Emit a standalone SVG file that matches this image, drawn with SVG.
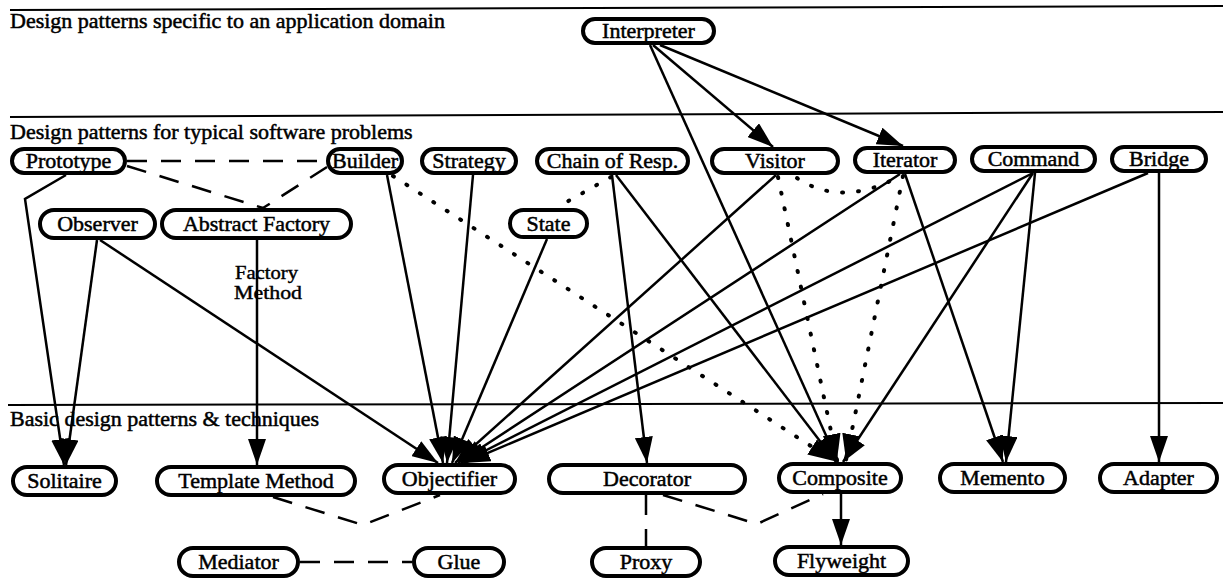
<svg xmlns="http://www.w3.org/2000/svg" width="1223" height="580" viewBox="0 0 1223 580">
  <style>
    .bg { fill: #ffffff; }
    .band { stroke: #000; stroke-width: 2; fill: none; }
    .section { font-family: "Liberation Serif", "Times New Roman", serif; font-size: 22px; fill: #000; stroke: #000; stroke-width: 0.5; }
    .pill { fill: #ffffff; stroke: #000; stroke-width: 4; }
    .label { font-family: "Liberation Serif", "Times New Roman", serif; font-size: 22px; fill: #000; stroke: #000; stroke-width: 0.5; text-anchor: middle; }
    .note { font-family: "Liberation Serif", "Times New Roman", serif; font-size: 18px; fill: #000; stroke: #000; stroke-width: 0.4; }
    .uses { stroke: #000; stroke-width: 2.5; fill: none; marker-end: url(#head); }
    .variant { stroke: #000; stroke-width: 4; fill: none; stroke-dasharray: 1 15; stroke-linecap: round; }
    .variant.arrowed { marker-end: url(#head); }
    .similar { stroke: #000; stroke-width: 2.5; fill: none; stroke-dasharray: 20 14; }
  </style>
  <defs>
    <marker id="head" viewBox="0 0 26 18" refX="26" refY="9" markerWidth="26" markerHeight="18" markerUnits="userSpaceOnUse" orient="auto">
      <path d="M0,0 L26,9 L0,18 z" fill="#000"/>
    </marker>
  </defs>

  <rect class="bg" x="0" y="0" width="1223" height="580"/>

  <!-- layer separators and layer titles -->
  <g id="layers">
    <line class="band" x1="10" y1="10" x2="1223" y2="6"/>
    <line class="band" x1="10" y1="117" x2="1223" y2="112"/>
    <line class="band" x1="8" y1="405" x2="1223" y2="403"/>
    <text class="section" x="10" y="28">Design patterns specific to an application domain</text>
    <text class="section" x="10" y="139">Design patterns for typical software problems</text>
    <text class="section" x="10" y="426">Basic design patterns &amp; techniques</text>
  </g>

  <!-- relationships -->
  <g id="connectors">
    <!-- X uses Y -->
    <path class="uses" d="M653,45 L773,147"/>
    <path class="uses" d="M660,45 L903,146"/>
    <path class="uses" d="M650,45 L838,462"/>
    <path class="uses" d="M66,175 L25,199 L64,465"/>
    <path class="uses" d="M97,240 L66,465"/>
    <path class="uses" d="M100,240 L438,463"/>
    <path class="uses" d="M257,240 L257,465"/>
    <path class="uses" d="M387,175 L443,463"/>
    <path class="uses" d="M473,175 L447,463"/>
    <path class="uses" d="M547,239 L452,463"/>
    <path class="uses" d="M612,175 L647,463"/>
    <path class="uses" d="M616,175 L836,462"/>
    <path class="uses" d="M776,175 L455,463"/>
    <path class="uses" d="M900,174 L458,463"/>
    <path class="uses" d="M905,174 L1003,462"/>
    <path class="uses" d="M1033,173 L461,463"/>
    <path class="uses" d="M1033,173 L843,462"/>
    <path class="uses" d="M1035,173 L1006,462"/>
    <path class="uses" d="M1148,173 L464,463"/>
    <path class="uses" d="M1159,173 L1159,462"/>
    <path class="uses" d="M841,494 L841,545"/>

    <!-- variant of X uses Y -->
    <path class="variant arrowed" d="M393,176 L834,461"/>
    <path class="variant" d="M611,177 L556,208"/>
    <path class="variant arrowed" d="M778,177 L837,460"/>
    <path class="variant arrowed" d="M903,176 L846,460"/>
    <path class="variant" d="M797,178 Q842,208 900,176"/>

    <!-- X is similar to Y -->
    <path class="similar" d="M127,161 L326,161"/>
    <path class="similar" d="M127,166 L263,208"/>
    <path class="similar" d="M327,167 L263,208"/>
    <path class="similar" d="M273,497 L363,525 L440,495"/>
    <path class="similar" d="M663,495 L757,524 L823,494"/>
    <path class="similar" d="M646,495 L646,546"/>
    <path class="similar" d="M300,562 L412,562"/>

    <text class="note" x="235" y="279" textLength="63" lengthAdjust="spacingAndGlyphs">Factory</text>
    <text class="note" x="234" y="299" textLength="68" lengthAdjust="spacingAndGlyphs">Method</text>
  </g>

  <!-- patterns -->
  <g id="interpreter"><rect class="pill" x="583" y="19" width="131" height="24" rx="12"/><text class="label" x="648.5" y="38">Interpreter</text></g>

  <g id="prototype"><rect class="pill" x="12" y="149" width="113" height="24" rx="12"/><text class="label" x="68.5" y="168">Prototype</text></g>
  <g id="builder"><rect class="pill" x="328" y="149" width="74" height="24" rx="12"/><text class="label" x="365" y="168">Builder</text></g>
  <g id="strategy"><rect class="pill" x="422" y="149" width="94" height="24" rx="12"/><text class="label" x="469" y="168">Strategy</text></g>
  <g id="chain-of-resp"><rect class="pill" x="537" y="149" width="151" height="24" rx="12"/><text class="label" x="612.5" y="168">Chain of Resp.</text></g>
  <g id="visitor"><rect class="pill" x="712" y="149" width="126" height="24" rx="12"/><text class="label" x="775" y="168">Visitor</text></g>
  <g id="iterator"><rect class="pill" x="855" y="148" width="100" height="24" rx="12"/><text class="label" x="905" y="167">Iterator</text></g>
  <g id="command"><rect class="pill" x="972" y="147" width="123" height="24" rx="12"/><text class="label" x="1033.5" y="166">Command</text></g>
  <g id="bridge"><rect class="pill" x="1112" y="147" width="94" height="24" rx="12"/><text class="label" x="1159" y="166">Bridge</text></g>

  <g id="observer"><rect class="pill" x="40" y="210" width="115" height="28" rx="14"/><text class="label" x="97.5" y="231">Observer</text></g>
  <g id="abstract-factory"><rect class="pill" x="162" y="210" width="189" height="28" rx="14"/><text class="label" x="256.5" y="231">Abstract Factory</text></g>
  <g id="state"><rect class="pill" x="510" y="210" width="77" height="27" rx="13.5"/><text class="label" x="548.5" y="231">State</text></g>

  <g id="solitaire"><rect class="pill" x="13" y="467" width="103" height="28" rx="14"/><text class="label" x="64.5" y="488">Solitaire</text></g>
  <g id="template-method"><rect class="pill" x="157" y="467" width="198" height="28" rx="14"/><text class="label" x="256" y="488">Template Method</text></g>
  <g id="objectifier"><rect class="pill" x="384" y="465" width="131" height="28" rx="14"/><text class="label" x="449.5" y="486">Objectifier</text></g>
  <g id="decorator"><rect class="pill" x="549" y="465" width="196" height="28" rx="14"/><text class="label" x="647" y="486">Decorator</text></g>
  <g id="composite"><rect class="pill" x="779" y="464" width="122" height="28" rx="14"/><text class="label" x="840" y="485">Composite</text></g>
  <g id="memento"><rect class="pill" x="940" y="464" width="125" height="28" rx="14"/><text class="label" x="1002.5" y="485">Memento</text></g>
  <g id="adapter"><rect class="pill" x="1100" y="464" width="117" height="28" rx="14"/><text class="label" x="1158.5" y="485">Adapter</text></g>

  <g id="mediator"><rect class="pill" x="179" y="548" width="119" height="28" rx="14"/><text class="label" x="238.5" y="569">Mediator</text></g>
  <g id="glue"><rect class="pill" x="414" y="548" width="90" height="28" rx="14"/><text class="label" x="459" y="569">Glue</text></g>
  <g id="proxy"><rect class="pill" x="592" y="548" width="108" height="28" rx="14"/><text class="label" x="646" y="569">Proxy</text></g>
  <g id="flyweight"><rect class="pill" x="775" y="547" width="133" height="28" rx="14"/><text class="label" x="841.5" y="568">Flyweight</text></g>
</svg>
